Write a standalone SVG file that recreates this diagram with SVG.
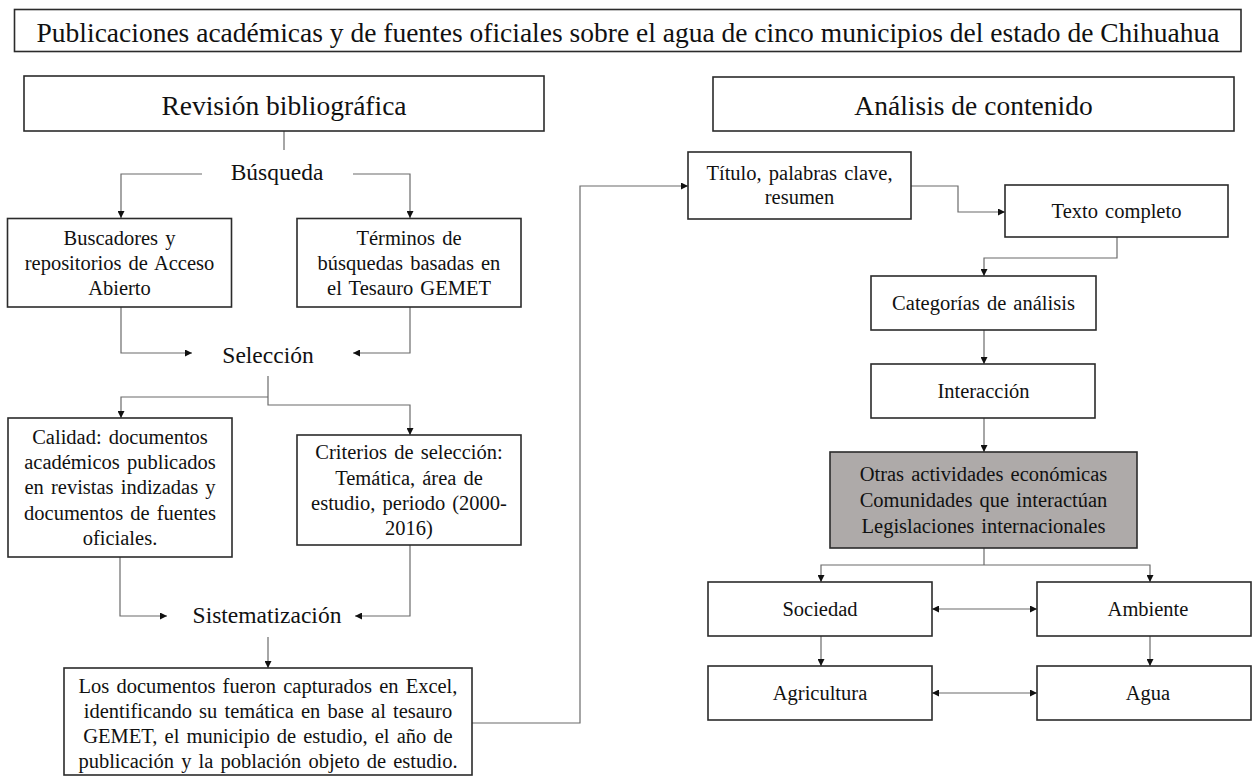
<svg xmlns="http://www.w3.org/2000/svg" width="1258" height="777" viewBox="0 0 1258 777">
<defs>
<style>
text { font-family: "Liberation Serif", "Times New Roman", serif; fill: #111; }
.box { fill: #fff; stroke: #2b2b2b; stroke-width: 1.6; }
.grey { fill: #aeaaa9; }
.conn { fill: none; stroke: #6b6b6b; stroke-width: 1.2; }
.arr { marker-end: url(#ah); }
.dbl { marker-start: url(#ah); marker-end: url(#ah); }
.ttl { font-size: 27.5px; text-anchor: middle; }
.hd { font-size: 27.5px; text-anchor: middle; }
.lb { font-size: 23.5px; text-anchor: middle; }
.bx { font-size: 20.5px; text-anchor: middle; word-spacing: 2px; }
</style>
<marker id="ah" viewBox="0 0 10 10" refX="10" refY="5" markerWidth="8" markerHeight="7" markerUnits="userSpaceOnUse" orient="auto-start-reverse"><path d="M0,0 L10,5 L0,10 z" fill="#111"/></marker>
</defs>
<rect width="1258" height="777" fill="#fff"/>

<g id="connectors">
<path class="conn" d="M284,131 V150"/>
<path class="conn arr" d="M202,174 H121 V218"/>
<path class="conn arr" d="M353,174 H410 V218"/>
<path class="conn arr" d="M121,307 V353 H192"/>
<path class="conn arr" d="M410,307 V353 H353"/>
<path class="conn arr" d="M268,376 V405 H410 V435"/>
<path class="conn arr" d="M268,397 H121 V418"/>
<path class="conn arr" d="M120,557 V616 H167"/>
<path class="conn arr" d="M410,545 V616 H355"/>
<path class="conn arr" d="M268,637 V668"/>
<path class="conn arr" d="M472,723 H580 V186 H688"/>
<path class="conn arr" d="M911,186 H958 V212 H1005"/>
<path class="conn arr" d="M1117,237 V258 H984 V276"/>
<path class="conn arr" d="M984,330 V364"/>
<path class="conn arr" d="M984,418 V452"/>
<path class="conn" d="M984,548 V565"/>
<path class="conn arr" d="M984,565 H821 V582"/>
<path class="conn arr" d="M984,565 H1150 V582"/>
<path class="conn dbl" d="M932,609 H1037"/>
<path class="conn arr" d="M821,636 V666"/>
<path class="conn arr" d="M1150,636 V666"/>
<path class="conn dbl" d="M932,693 H1037"/>
</g>

<g id="title">
<rect class="box" x="14.5" y="9.5" width="1226.5" height="42"/>
<text class="ttl" x="628" y="42">Publicaciones académicas y de fuentes oficiales sobre el agua de cinco municipios del estado de Chihuahua</text>
</g>
<g id="revision">
<rect class="box" x="24" y="76" width="520" height="55"/>
<text class="hd" x="284" y="115">Revisión bibliográfica</text>
</g>
<g id="analisis">
<rect class="box" x="713" y="77" width="521" height="54"/>
<text class="hd" x="973.5" y="115">Análisis de contenido</text>
</g>
<g id="busqueda">
<text class="lb" x="277" y="180">Búsqueda</text>
</g>
<g id="buscadores">
<rect class="box" x="7.5" y="218.5" width="224" height="88.5"/>
<text class="bx" x="119.5" y="245">Buscadores y</text>
<text class="bx" x="119.5" y="270">repositorios de Acceso</text>
<text class="bx" x="119.5" y="295">Abierto</text>
</g>
<g id="terminos">
<rect class="box" x="297" y="218.5" width="224" height="88.5"/>
<text class="bx" x="409" y="245">Términos de</text>
<text class="bx" x="409" y="270">búsquedas basadas en</text>
<text class="bx" x="409" y="295">el Tesauro GEMET</text>
</g>
<g id="seleccion">
<text class="lb" x="268" y="363">Selección</text>
</g>
<g id="calidad">
<rect class="box" x="8" y="418" width="224" height="139"/>
<text class="bx" x="120" y="444">Calidad: documentos</text>
<text class="bx" x="120" y="469">académicos publicados</text>
<text class="bx" x="120" y="494">en revistas indizadas y</text>
<text class="bx" x="120" y="520">documentos de fuentes</text>
<text class="bx" x="120" y="545">oficiales.</text>
</g>
<g id="criterios">
<rect class="box" x="297" y="435" width="224" height="110"/>
<text class="bx" x="409" y="459">Criterios de selección:</text>
<text class="bx" x="409" y="485">Temática, área de</text>
<text class="bx" x="409" y="510">estudio, periodo (2000-</text>
<text class="bx" x="409" y="535">2016)</text>
</g>
<g id="sistematizacion">
<text class="lb" x="267" y="623">Sistematización</text>
</g>
<g id="documentos">
<rect class="box" x="64" y="668" width="408" height="107"/>
<text class="bx" x="268" y="693">Los documentos fueron capturados en Excel,</text>
<text class="bx" x="268" y="718">identificando su temática en base al tesauro</text>
<text class="bx" x="268" y="743">GEMET, el municipio de estudio, el año de</text>
<text class="bx" x="268" y="768">publicación y la población objeto de estudio.</text>
</g>
<g id="titulo">
<rect class="box" x="688" y="152" width="223" height="67"/>
<text class="bx" x="799.5" y="180">Título, palabras clave,</text>
<text class="bx" x="799.5" y="204">resumen</text>
</g>
<g id="texto">
<rect class="box" x="1005" y="185" width="223" height="52"/>
<text class="bx" x="1116.5" y="218">Texto completo</text>
</g>
<g id="categorias">
<rect class="box" x="871" y="276" width="225" height="54"/>
<text class="bx" x="983.5" y="310">Categorías de análisis</text>
</g>
<g id="interaccion">
<rect class="box" x="871" y="364" width="224" height="54"/>
<text class="bx" x="983.5" y="398">Interacción</text>
</g>
<g id="otras">
<rect class="box grey" x="830" y="452" width="307" height="96"/>
<text class="bx" x="983.5" y="481">Otras actividades económicas</text>
<text class="bx" x="983.5" y="507">Comunidades que interactúan</text>
<text class="bx" x="983.5" y="533">Legislaciones internacionales</text>
</g>
<g id="sociedad">
<rect class="box" x="708" y="582" width="224" height="54"/>
<text class="bx" x="820" y="616">Sociedad</text>
</g>
<g id="ambiente">
<rect class="box" x="1037" y="582" width="214" height="54"/>
<text class="bx" x="1148" y="616">Ambiente</text>
</g>
<g id="agricultura">
<rect class="box" x="708" y="666" width="224" height="54"/>
<text class="bx" x="820" y="700">Agricultura</text>
</g>
<g id="agua">
<rect class="box" x="1037" y="666" width="214" height="54"/>
<text class="bx" x="1148" y="700">Agua</text>
</g>
</svg>
